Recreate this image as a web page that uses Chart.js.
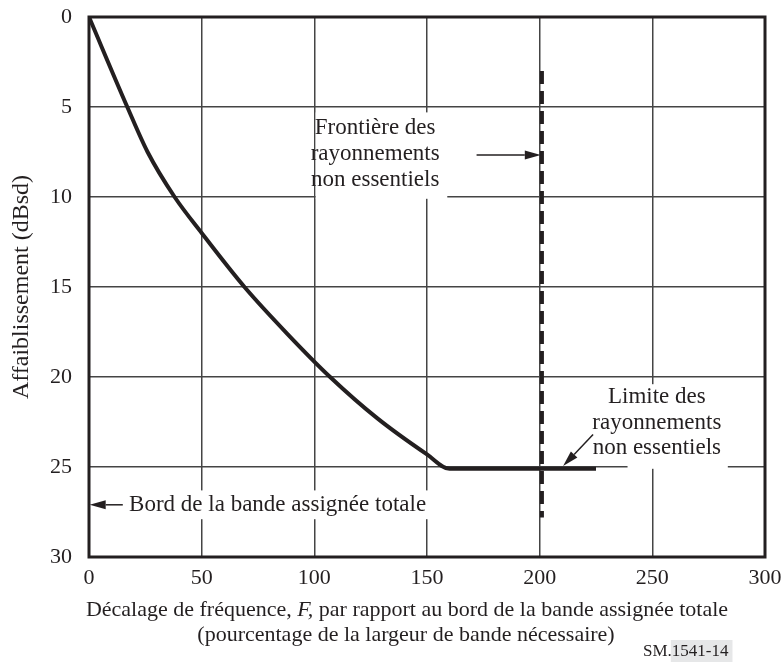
<!DOCTYPE html>
<html>
<head>
<meta charset="utf-8">
<script src="https://cdn.jsdelivr.net/npm/chart.js@4/dist/chart.umd.min.js"></script>
<style>
  body { margin: 0; background: #fff; }
</style>
</head>
<body>
<canvas id="chart" width="782" height="666"></canvas>
<script>
// frequency offset (% of necessary bandwidth) vs attenuation (dBsd)
const maskOffset = [0, 17, 26, 38, 50, 69, 88, 107, 128, 150, 160, 225];
const maskAtten = [0, 5, 7.5, 10, 12, 15, 17.6, 20, 22.3, 24.3, 25.1, 25.1];

// spurious domain boundary (dashed)
const boundaryOffset = [201, 201];
const boundaryAtten = [3, 27.8];

const xTicks = [0, 50, 100, 150, 200, 250, 300];
const yTicks = [0, 5, 10, 15, 20, 25, 30];

const frontiereLines = ['Frontière des', 'rayonnements', 'non essentiels'];
const limiteLines = ['Limite des', 'rayonnements', 'non essentiels'];
const bordLabel = 'Bord de la bande assignée totale';
const xTitle1 = ['Décalage de fréquence, ', 'F,', ' par rapport au bord de la bande assignée totale'];
const xTitle2 = '(pourcentage de la largeur de bande nécessaire)';
const yTitle = 'Affaiblissement (dBsd)';
const figRef = ['SM.', '1541-14'];

const ink = '#231f20';
const serif = '"Liberation Serif", "Times New Roman", serif';

function toPoints(xs, ys) {
    return xs.map((x, i) => ({ x: x, y: ys[i] }));
}

function arrow(ctx, x1, y1, x2, y2) {
    // line from (x1,y1) with head at (x2,y2)
    const ang = Math.atan2(y2 - y1, x2 - x1);
    const len = 16, half = 4.5;
    ctx.beginPath();
    ctx.moveTo(x1, y1);
    ctx.lineTo(x2 - Math.cos(ang) * len, y2 - Math.sin(ang) * len);
    ctx.lineWidth = 1.5;
    ctx.strokeStyle = ink;
    ctx.stroke();
    ctx.beginPath();
    ctx.moveTo(x2, y2);
    ctx.lineTo(x2 - Math.cos(ang) * len - Math.sin(ang) * half, y2 - Math.sin(ang) * len + Math.cos(ang) * half);
    ctx.lineTo(x2 - Math.cos(ang) * len + Math.sin(ang) * half, y2 - Math.sin(ang) * len - Math.cos(ang) * half);
    ctx.closePath();
    ctx.fillStyle = ink;
    ctx.fill();
}

const annotate = {
    id: 'annotate',
    beforeDatasetsDraw(chart) {
        const { ctx, scales: { x, y } } = chart;
        ctx.save();
        ctx.fillStyle = '#fff';
        // white boxes behind the labels
        ctx.fillRect(x.getPixelForValue(100.6), y.getPixelForValue(5.3), x.getPixelForValue(159) - x.getPixelForValue(100.6), y.getPixelForValue(10.1) - y.getPixelForValue(5.3));
        ctx.fillRect(x.getPixelForValue(222), y.getPixelForValue(20.4), x.getPixelForValue(283.5) - x.getPixelForValue(222), y.getPixelForValue(24.3) - y.getPixelForValue(20.4));
        ctx.fillRect(x.getPixelForValue(239), y.getPixelForValue(24), x.getPixelForValue(283.5) - x.getPixelForValue(239), y.getPixelForValue(25.1) - y.getPixelForValue(24));
        ctx.fillRect(x.getPixelForValue(16), y.getPixelForValue(26.3), x.getPixelForValue(154) - x.getPixelForValue(16), y.getPixelForValue(27.9) - y.getPixelForValue(26.3));

        ctx.fillStyle = ink;
        ctx.font = '23px ' + serif;
        ctx.textAlign = 'center';
        ctx.textBaseline = 'middle';
        const fy = [6.17, 7.6, 9.06];
        frontiereLines.forEach((t, i) => ctx.fillText(t, x.getPixelForValue(127), y.getPixelForValue(fy[i])));
        const ly = [21.1, 22.55, 23.95];
        limiteLines.forEach((t, i) => ctx.fillText(t, x.getPixelForValue(252), y.getPixelForValue(ly[i])));
        ctx.textAlign = 'left';
        ctx.fillText(bordLabel, x.getPixelForValue(17.8), y.getPixelForValue(27.1));
        ctx.restore();
    },
    afterDatasetsDraw(chart) {
        const { ctx, chartArea: a, scales: { x, y } } = chart;
        ctx.save();
        arrow(ctx, x.getPixelForValue(172), y.getPixelForValue(7.67), x.getPixelForValue(200.5), y.getPixelForValue(7.67));
        arrow(ctx, x.getPixelForValue(223.7), y.getPixelForValue(23.2), x.getPixelForValue(210.4), y.getPixelForValue(24.95));
        arrow(ctx, x.getPixelForValue(15), y.getPixelForValue(27.1), x.getPixelForValue(0.3), y.getPixelForValue(27.1));
        // frame
        ctx.lineWidth = 3;
        ctx.strokeStyle = ink;
        ctx.strokeRect(a.left, a.top, a.right - a.left, a.bottom - a.top);
        ctx.restore();
    },
    afterDraw(chart) {
        const { ctx } = chart;
        ctx.save();
        ctx.fillStyle = ink;
        ctx.textBaseline = 'middle';
        const reg = '22px ' + serif, ital = 'italic 22px ' + serif;
        ctx.font = reg;
        const w0 = ctx.measureText(xTitle1[0]).width;
        const w2 = ctx.measureText(xTitle1[2]).width;
        ctx.font = ital;
        const w1 = ctx.measureText(xTitle1[1]).width;
        let sx = 407 - (w0 + w1 + w2) / 2;
        ctx.textAlign = 'left';
        ctx.font = reg;
        ctx.fillText(xTitle1[0], sx, 610);
        ctx.font = ital;
        ctx.fillText(xTitle1[1], sx + w0, 610);
        ctx.font = reg;
        ctx.fillText(xTitle1[2], sx + w0 + w1, 610);
        ctx.textAlign = 'center';
        ctx.fillText(xTitle2, 406, 635);

        // figure reference
        ctx.font = '17px ' + serif;
        ctx.textAlign = 'left';
        const ws = ctx.measureText(figRef[0]).width;
        const wn = ctx.measureText(figRef[1]).width;
        ctx.fillStyle = '#e6e7e8';
        ctx.fillRect(643 + ws - 1, 640, wn + 5, 22);
        ctx.fillStyle = ink;
        ctx.fillText(figRef[0], 643, 652);
        ctx.fillText(figRef[1], 643 + ws, 652);
        ctx.restore();
    }
};

new Chart(document.getElementById('chart'), {
    type: 'line',
    data: {
        datasets: [
            {
                data: toPoints(maskOffset, maskAtten),
                borderColor: ink,
                borderWidth: 4,
                pointRadius: 0,
                cubicInterpolationMode: 'monotone',
                fill: false,
            },
            {
                data: toPoints(boundaryOffset, boundaryAtten),
                borderColor: ink,
                borderWidth: 4,
                borderDash: [13, 7],
                borderCapStyle: 'butt',
                pointRadius: 0,
                fill: false,
            },
        ],
    },
    options: {
        responsive: false,
        animation: false,
        layout: { padding: { top: 17, right: 17, left: 0, bottom: 0 } },
        plugins: {
            legend: { display: false },
            tooltip: { enabled: false },
        },
        scales: {
            x: {
                type: 'linear',
                min: 0,
                max: 300,
                afterBuildTicks: (s) => { s.ticks = xTicks.map((v) => ({ value: v })); },
                ticks: { font: { family: serif, size: 22 }, color: ink, padding: 8, maxRotation: 0 },
                grid: { color: '#444', lineWidth: 1.5, drawTicks: false },
                border: { display: false },
                afterFit: (s) => {
                    s.height = 109;
                    s.paddingLeft = 0;
                    s.paddingRight = 0;
                },
            },
            y: {
                type: 'linear',
                reverse: true,
                min: 0,
                max: 30,
                afterBuildTicks: (s) => { s.ticks = yTicks.map((v) => ({ value: v })); },
                ticks: { font: { family: serif, size: 22 }, color: ink, padding: 17 },
                grid: { color: '#444', lineWidth: 1.5, drawTicks: false },
                border: { display: false },
                title: {
                    display: true,
                    text: yTitle,
                    font: { family: serif, size: 24 },
                    color: ink,
                    padding: { top: 7, bottom: 0 },
                },
                afterFit: (s) => {
                    s.width = 89;
                    s.paddingTop = 0;
                    s.paddingBottom = 0;
                },
            },
        },
    },
    plugins: [annotate],
});
</script>
</body>
</html>
